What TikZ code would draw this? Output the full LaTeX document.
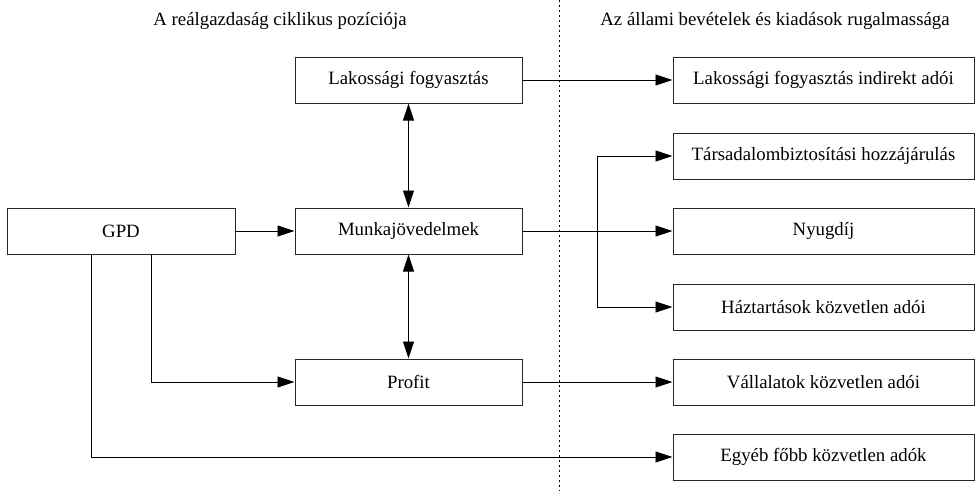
\documentclass[tikz,border=0pt]{standalone}
\usepackage{fontspec}
\setmainfont{Liberation Serif}
\usetikzlibrary{arrows.meta}

\tikzset{
  box/.style={draw=black!85,line width=1pt,inner sep=0pt,minimum height=46pt},
  arr/.style={-{Triangle[length=17pt,width=11pt]},line width=0.9pt},
  dblarr/.style={{Triangle[length=17pt,width=11pt]}-{Triangle[length=17pt,width=11pt]},line width=0.9pt}
}

\begin{document}
\begin{tikzpicture}[x=1pt,y=-1pt,font=\fontsize{18.8}{22}\selectfont]
\useasboundingbox (0,0) rectangle (978,491);

\node at (280,21) {A reálgazdaság ciklikus pozíciója};
\node at (775,21) {Az állami bevételek és kiadások rugalmassága};
\draw[line width=1pt,dash pattern=on 1.6pt off 3.4pt] (559,0) -- (559,491);

\node[box,minimum width=228pt] (gpd) at (121,231) {GPD};
\node[box,minimum width=227pt] (lakfogy) at (408.5,80) {Lakossági fogyasztás};
\node[box,minimum width=227pt] (munka) at (408.5,231) {Munkajövedelmek};
\node[box,minimum width=227pt] (profit) at (408.5,382) {Profit};

\node[box,minimum width=301pt] (indirekt) at (823.5,80) {Lakossági fogyasztás indirekt adói};
\node[box,minimum width=301pt] (tb) at (823.5,156) {Társadalombiztosítási hozzájárulás};
\node[box,minimum width=301pt] (nyugdij) at (823.5,231) {Nyugdíj};
\node[box,minimum width=301pt] (haztart) at (823.5,307) {Háztartások közvetlen adói};
\node[box,minimum width=301pt] (vallalat) at (823.5,382) {Vállalatok közvetlen adói};
\node[box,minimum width=301pt] (egyeb) at (823.5,457) {Egyéb főbb közvetlen adók};

\coordinate (split) at (597,231);

\draw[arr] (gpd) -- (munka);
\draw[arr] ([xshift=30pt]gpd.south) |- (profit.west);
\draw[arr] ([xshift=-30pt]gpd.south) |- (egyeb.west);
\draw[dblarr] (lakfogy) -- (munka);
\draw[dblarr] (munka) -- (profit);
\draw[arr] (lakfogy) -- (indirekt);
\draw[arr] (munka) -- (nyugdij);
\draw[arr] (split) |- (tb.west);
\draw[arr] (split) |- (haztart.west);
\draw[arr] (profit) -- (vallalat);
\end{tikzpicture}
\end{document}
